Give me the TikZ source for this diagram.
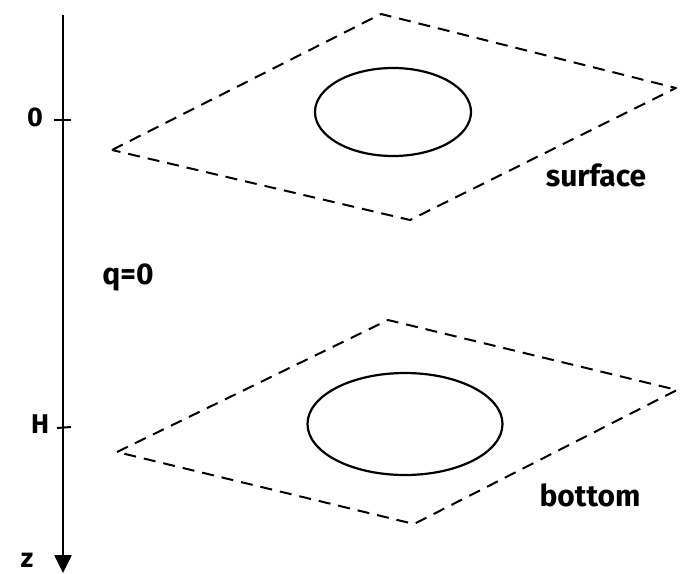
\documentclass[tikz,border=0pt]{standalone}
\usepackage{fontspec}
\setmainfont{Fira Sans}
\usetikzlibrary{arrows.meta,shapes.geometric}
\begin{document}
\begin{tikzpicture}[x=1pt,y=-1pt,
  plane/.style={line width=2pt,dash pattern=on 12pt off 8pt,line join=round},
  disk/.style={line width=2.2pt},
  axis/.style={line width=2.6pt,-{Triangle[length=18pt,width=17pt]}},
  tickmark/.style={line width=2pt},
  lbl/.style={font=\fontsize{30}{34}\selectfont\bfseries,inner sep=0pt},
  sym/.style={font=\fontsize{27}{31}\selectfont\bfseries,inner sep=0pt}]
\useasboundingbox (0,0) rectangle (680,573);
% axis
\coordinate (atop) at (63,15);
\coordinate (abot) at (63,573);
\draw[axis] (atop) -- (abot);
\coordinate (t0a) at (54,120); \coordinate (t0b) at (71,120);
\draw[tickmark] (t0a) -- (t0b);
\coordinate (tHa) at (57,428); \coordinate (tHb) at (71,427);
\draw[tickmark] (tHa) -- (tHb);
\node[sym] (l0) at (35,117) {0};
\node[sym] (lH) at (40,424) {H};
\node[sym] (lz) at (27,560) {z};
\node[lbl] (lq) at (128,277) {q=0};
% top plane
\coordinate (p1) at (112,150);
\coordinate (p2) at (381,14);
\coordinate (p3) at (676,88);
\coordinate (p4) at (410,220);
\draw[plane] (p1) -- (p2) -- (p3) -- (p4) -- cycle;
\node[disk,draw,ellipse,minimum width=156pt,minimum height=88pt,inner sep=0pt] (e1) at (393,112) {};
\node[lbl] (ls) at (596,175) {surface};
% bottom plane
\coordinate (q1) at (117,452);
\coordinate (q2) at (388,320);
\coordinate (q3) at (677,390);
\coordinate (q4) at (414,524);
\draw[plane] (q1) -- (q2) -- (q3) -- (q4) -- cycle;
\node[disk,draw,ellipse,minimum width=195pt,minimum height=102pt,inner sep=0pt] (e2) at (405,424) {};
\node[lbl] (lb) at (590,495) {bottom};
\end{tikzpicture}
\end{document}
